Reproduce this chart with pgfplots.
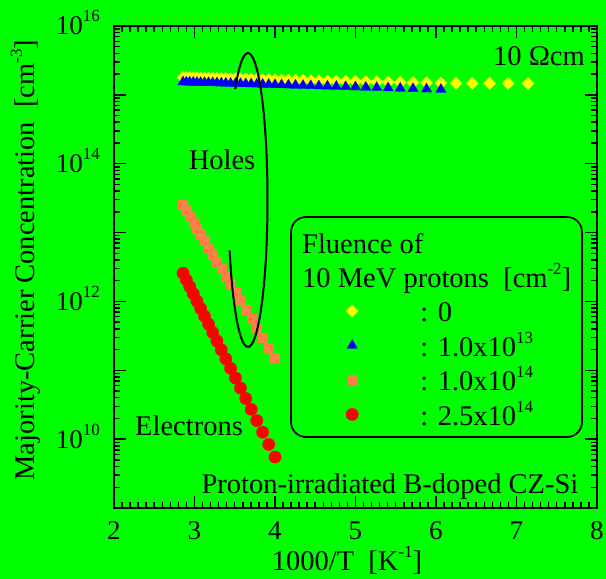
\documentclass[border=0pt]{standalone}
\usepackage{fontspec}
\setmainfont{Liberation Serif}
\usepackage{pgfplots}
\pgfplotsset{compat=1.18}
\definecolor{bg}{RGB}{0,255,0}
\definecolor{cyel}{RGB}{255,255,0}
\definecolor{cblu}{RGB}{0,0,255}
\definecolor{corg}{RGB}{255,127,70}
\definecolor{cred}{RGB}{255,0,0}
\newcommand\fsz{\fontsize{28.5}{34}\selectfont}
\newcommand\tsz{\fontsize{27}{32}\selectfont}
\newcommand\sups[1]{\raisebox{13pt}{\fontsize{17}{17}\selectfont #1}}
\begin{document}
\begin{tikzpicture}[x=1pt,y=1pt]
\useasboundingbox (0,0) rectangle (606,579);
\fill[bg] (0,0) rectangle (606,579);
\begin{axis}[
  at={(114pt,71pt)}, anchor=south west,
  scale only axis, width=483pt, height=482pt,
  xmin=2, xmax=8, ymode=log, ymin=1e9, ymax=1e16,
  xtick={2,3,4,5,6,7,8}, xticklabels={2,3,4,5,6,7,8},
  minor x tick num=9,
  ytick={1e9,1e10,1e11,1e12,1e13,1e14,1e15,1e16},
  yticklabels={,10\sups{10},,10\sups{12},,10\sups{14},,10\sups{16}},
  minor ytick={2e9,3e9,4e9,5e9,6e9,7e9,8e9,9e9,
    2e10,3e10,4e10,5e10,6e10,7e10,8e10,9e10,
    2e11,3e11,4e11,5e11,6e11,7e11,8e11,9e11,
    2e12,3e12,4e12,5e12,6e12,7e12,8e12,9e12,
    2e13,3e13,4e13,5e13,6e13,7e13,8e13,9e13,
    2e14,3e14,4e14,5e14,6e14,7e14,8e14,9e14,
    2e15,3e15,4e15,5e15,6e15,7e15,8e15,9e15},
  tick pos=both, tick align=inside,
  major tick length=12pt, minor tick length=6pt,
  axis line style={line width=2pt},
  every tick/.style={black, line width=1.5pt},
  tick label style={font=\tsz, inner sep=0pt},
  xticklabel style={anchor=base, yshift=-31.3pt},
  yticklabel style={anchor=base east, xshift=-14pt, yshift=-9pt},
  xlabel={1000/T \ [K\sups{-1}]},
  ylabel={Majority-Carrier Concentration \ [cm\sups{-3}]},
  label style={font=\fsz, inner sep=0pt},
  xlabel style={at={([xshift=-8.5pt,yshift=-62.7pt]rel axis cs:0.5,0)}, anchor=base},
  ylabel style={at={([xshift=-79pt,yshift=7pt]rel axis cs:0,0.5)}, anchor=base},
  legend style={at={(0.4203,0.4363)}, anchor=north west, draw=none, fill=none,
    inner sep=0pt, outer sep=0pt, row sep=0pt, column sep=0pt, font=\fsz,
    nodes={inner sep=0pt, text height=24pt, text depth=10.5pt}},
  legend cell align=left,
  legend image code/.code={\path (0pt,0pt) (103pt,0pt); \draw[#1, /tikz/only marks] plot coordinates {(35pt,4pt)};},
]
\addlegendimage{color=cyel, mark=square*, mark size=4.3pt, mark options={rotate=45, line width=0.2pt}}
\addlegendentry{: 0}
\addlegendimage{color=cblu, mark=triangle*, mark size=6pt, mark options={line width=0.2pt}}
\addlegendentry{: 1.0x10\sups{13}}
\addlegendimage{color=corg, mark=square*, mark size=4.5pt, mark options={line width=0.2pt}}
\addlegendentry{: 1.0x10\sups{14}}
\addlegendimage{color=cred, mark=*, mark size=6.2pt, mark options={line width=0.2pt}}
\addlegendentry{: 2.5x10\sups{14}}
\addplot[only marks, forget plot, color=cyel, mark=square*, mark size=4.3pt, mark options={rotate=45, line width=0.2pt}] coordinates {
(2.8571,1.786e15) (2.8986,1.782e15) (2.9412,1.777e15) (2.9851,1.772e15) (3.0303,1.766e15) (3.0769,1.761e15) (3.1250,1.755e15) (3.1746,1.749e15) (3.2258,1.743e15) (3.2787,1.737e15) (3.3333,1.731e15) (3.3898,1.725e15) (3.4483,1.718e15) (3.5088,1.711e15) (3.5714,1.704e15) (3.6364,1.697e15) (3.7037,1.689e15) (3.7736,1.681e15) (3.8462,1.673e15) (3.9216,1.665e15) (4.0000,1.656e15) (4.0816,1.647e15) (4.1667,1.638e15) (4.2553,1.628e15) (4.3478,1.618e15) (4.4444,1.610e15) (4.5455,1.602e15) (4.6512,1.593e15) (4.7619,1.584e15) (4.8780,1.575e15) (5.0000,1.565e15) (5.1282,1.555e15) (5.2632,1.544e15) (5.4054,1.533e15) (5.5556,1.521e15) (5.7143,1.509e15) (5.8824,1.496e15) (6.0606,1.485e15) (6.2500,1.481e15) (6.4516,1.477e15) (6.6667,1.472e15) (6.8966,1.467e15) (7.1429,1.462e15)};
\addplot[only marks, forget plot, color=cblu, mark=triangle*, mark size=6pt, mark options={line width=0.2pt}] coordinates {
(2.8571,1.538e15) (2.8986,1.533e15) (2.9412,1.528e15) (2.9851,1.522e15) (3.0303,1.517e15) (3.0769,1.511e15) (3.1250,1.506e15) (3.1746,1.500e15) (3.2258,1.494e15) (3.2787,1.488e15) (3.3333,1.481e15) (3.3898,1.475e15) (3.4483,1.468e15) (3.5088,1.461e15) (3.5714,1.454e15) (3.6364,1.447e15) (3.7037,1.439e15) (3.7736,1.431e15) (3.8462,1.423e15) (3.9216,1.415e15) (4.0000,1.406e15) (4.0816,1.397e15) (4.1667,1.388e15) (4.2553,1.378e15) (4.3478,1.368e15) (4.4444,1.358e15) (4.5455,1.347e15) (4.6512,1.337e15) (4.7619,1.325e15) (4.8780,1.313e15) (5.0000,1.300e15) (5.1282,1.288e15) (5.2632,1.274e15) (5.4054,1.260e15) (5.5556,1.245e15) (5.7143,1.230e15) (5.8824,1.214e15) (6.0606,1.197e15)};
\addplot[only marks, forget plot, color=corg, mark=square*, mark size=4.5pt, mark options={line width=0.2pt}] coordinates {
(2.8571,2.512e13) (2.8986,2.086e13) (2.9412,1.725e13) (2.9851,1.417e13) (3.0303,1.158e13) (3.0769,9.40e12) (3.1250,7.58e12) (3.1746,6.07e12) (3.2258,4.83e12) (3.2787,3.81e12) (3.3333,2.99e12) (3.3898,2.32e12) (3.4483,1.786e12) (3.5088,1.363e12) (3.5714,1.030e12) (3.6364,7.70e11) (3.7037,5.70e11) (3.7736,4.17e11) (3.8462,3.01e11) (3.9216,2.15e11) (4.0000,1.516e11)};
\addplot[only marks, forget plot, color=cred, mark=*, mark size=6.2pt, mark options={line width=0.2pt}] coordinates {
(2.8571,2.570e12) (2.8986,2.056e12) (2.9412,1.636e12) (2.9851,1.291e12) (3.0303,1.012e12) (3.0769,7.88e11) (3.1250,6.08e11) (3.1746,4.66e11) (3.2258,3.54e11) (3.2787,2.66e11) (3.3333,1.984e11) (3.3898,1.464e11) (3.4483,1.069e11) (3.5088,7.72e10) (3.5714,5.51e10) (3.6364,3.89e10) (3.7037,2.71e10) (3.7736,1.858e10) (3.8462,1.258e10) (3.9216,8.38e9) (4.0000,5.50e9)};
\end{axis}
% annotations
\draw[line width=2pt] (235.2,489.9) arc[start angle=131, end angle=-160, x radius=19.5, y radius=147];
\draw[line width=1.7pt, rounded corners=15pt] (291,362) rectangle (582,142);
\node[font=\fsz, inner sep=0pt, anchor=base west] at (302,325.7) {Fluence of};
\node[font=\fsz, inner sep=0pt, anchor=base west] at (302,291.7) {10 MeV protons \ [cm\sups{-2}]};
\node[font=\fsz, inner sep=0pt, anchor=base] at (222,409.5) {Holes};
\node[font=\fsz, inner sep=0pt, anchor=base west] at (135,143) {Electrons};
\node[font=\fsz, inner sep=0pt, anchor=base east] at (585,513) {10 Ωcm};
\node[font=\fsz, inner sep=0pt, anchor=base east] at (578.5,85) {Proton-irradiated B-doped CZ-Si};
\end{tikzpicture}
\end{document}
